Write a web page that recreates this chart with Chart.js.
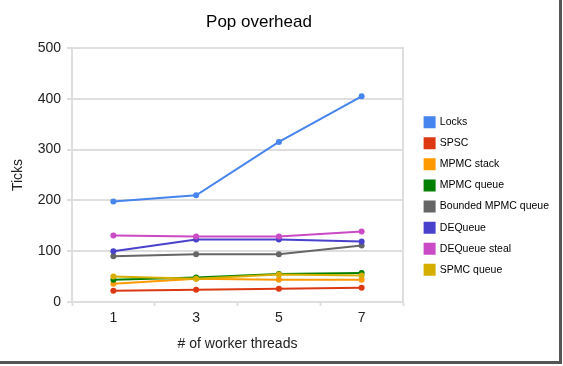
<!DOCTYPE html>
<html>
<head>
<meta charset="utf-8">
<script src="https://cdn.jsdelivr.net/npm/chart.js@4"></script>
<style>
  body { margin: 0; background: #fff; }
  #frame {
    position: relative;
    width: 559px;
    height: 361px;
    background: #fff;
    border-right: 3px solid #555;
    border-bottom: 3px solid #555;
  }
  #title {
    position: absolute;
    left: 0;
    top: 13px;
    width: 518px;
    text-align: center;
    font: 17px "Liberation Sans", Arial, sans-serif;
    line-height: 17px;
    color: #000;
  }
  canvas { position: absolute; left: 0; top: 0; }
</style>
</head>
<body>
<div id="frame">
  <canvas id="chart" width="559" height="361"></canvas>
  <div id="title">Pop overhead</div>
</div>
<script>
const threads = ["1", "3", "5", "7"];

const locks = [198, 210, 315, 405];
const spsc = [22, 24, 26, 28];
const mpmcStack = [36, 46, 44, 44];
const mpmcQueue = [44, 48, 55, 57];
const boundedMpmcQueue = [90, 94, 94, 111];
const deQueue = [100, 123, 123, 119];
const deQueueSteal = [131, 129, 129, 139];
const spmcQueue = [50, 46, 54, 52];

const seriesNames = ["Locks", "SPSC", "MPMC stack", "MPMC queue", "Bounded MPMC queue", "DEQueue", "DEQueue steal", "SPMC queue"];
const seriesValues = [locks, spsc, mpmcStack, mpmcQueue, boundedMpmcQueue, deQueue, deQueueSteal, spmcQueue];
const seriesColors = ["#4684ee", "#dc3912", "#ff9900", "#008000", "#666666", "#4942cc", "#cb4ac5", "#d6ae00"];

const yTicks = [0, 100, 200, 300, 400, 500];

Chart.defaults.font.family = '"Liberation Sans", Arial, sans-serif';

const gridColor = "#dedede";
const textColor = "#222";

const datasets = seriesNames.map((name, i) => ({
	label: name,
	data: seriesValues[i],
	borderColor: seriesColors[i],
	backgroundColor: seriesColors[i],
	borderWidth: 2,
	pointRadius: 3,
	pointBorderWidth: 0,
	pointHoverRadius: 3,
	tension: 0,
	// later series are painted on top, like the original
	order: seriesNames.length - i,
}));

// keep the legend column a fixed width so the plot ends where it should
const legendWidth = {
	id: "legendWidth",
	beforeUpdate(chart) {
		const legend = chart.legend;
		if (!legend || legend._fixedFit) return;
		const fit = legend.fit;
		legend.fit = function () {
			fit.call(this);
			this.width = 145;
		};
		legend._fixedFit = true;
	},
};

const ctx = document.getElementById("chart");

new Chart(ctx, {
	type: "line",
	data: {
		labels: threads,
		datasets: datasets,
	},
	plugins: [legendWidth],
	options: {
		responsive: false,
		animation: false,
		devicePixelRatio: 1,
		events: [],
		layout: {
			padding: { top: 48, left: 0, right: 0, bottom: 0 },
		},
		plugins: {
			tooltip: { enabled: false },
			legend: {
				position: "right",
				align: "center",
				fullSize: false,
				maxWidth: 145,
				title: {
					display: true,
					text: " ",
					font: { size: 10 },
					padding: { top: 30, bottom: 0 },
				},
				labels: {
					boxWidth: 10,
					boxHeight: 10,
					padding: 10.6,
					color: "#000",
					font: { size: 10.5 },
					sort: (a, b) => a.datasetIndex - b.datasetIndex,
				},
			},
		},
		scales: {
			x: {
				type: "category",
				offset: true,
				grid: {
					offset: true,
					drawOnChartArea: false,
					tickLength: 4,
					tickWidth: 2,
					tickColor: gridColor,
				},
				border: { color: gridColor, width: 2 },
				ticks: {
					color: textColor,
					font: { size: 14 },
					padding: 4,
				},
				title: {
					display: true,
					text: "# of worker threads",
					color: textColor,
					font: { size: 14 },
					padding: { top: 0, bottom: 8.6 },
				},
				afterFit: (scale) => {
					scale.height = 59;
				},
			},
			y: {
				min: 0,
				max: 500,
				afterBuildTicks: (scale) => {
					scale.ticks = yTicks.map((v) => ({ value: v }));
				},
				grid: {
					color: gridColor,
					lineWidth: 2,
					tickLength: 5,
				},
				border: { color: gridColor, width: 2 },
				ticks: {
					color: textColor,
					font: { size: 14 },
					padding: 6,
				},
				title: {
					display: true,
					text: "Ticks",
					color: textColor,
					font: { size: 14 },
					padding: { top: 9.6, bottom: 0 },
				},
				afterFit: (scale) => {
					scale.width = 72;
				},
			},
			y2: {
				position: "right",
				min: 0,
				max: 500,
				grid: { drawOnChartArea: false, drawTicks: false },
				border: { color: gridColor, width: 2 },
				ticks: { display: false },
				afterFit: (scale) => {
					scale.width = 11;
				},
			},
		},
	},
});
</script>
</body>
</html>
